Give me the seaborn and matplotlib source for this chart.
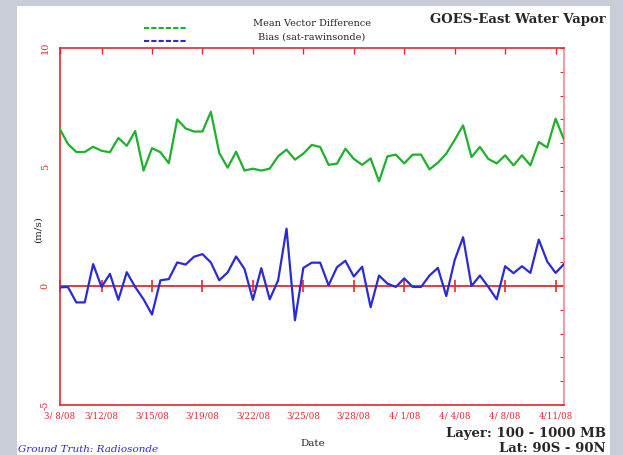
import pandas as pd
import matplotlib.pyplot as plt
import seaborn as sns
from matplotlib.patches import Rectangle
from matplotlib.lines import Line2D

# values, one point per analysis time
mean_vector_diff = [6.62, 5.97, 5.63, 5.63, 5.85, 5.68, 5.62, 6.22, 5.89, 6.51,
                    4.85, 5.79, 5.62, 5.16, 7.00, 6.62, 6.49, 6.49, 7.32, 5.59,
                    4.97, 5.64, 4.85, 4.93, 4.85, 4.93, 5.45, 5.73, 5.31, 5.56,
                    5.93, 5.84, 5.09, 5.14, 5.77, 5.34, 5.09, 5.36, 4.40, 5.45,
                    5.52, 5.15, 5.52, 5.52, 4.90, 5.18, 5.56, 6.14, 6.75, 5.42,
                    5.84, 5.34, 5.15, 5.49, 5.07, 5.49, 5.07, 6.05, 5.82, 7.03,
                    6.15]
bias = [-0.06, -0.04, -0.69, -0.69, 0.92, -0.04, 0.51, -0.58, 0.58, -0.04,
        -0.56, -1.20, 0.24, 0.29, 0.99, 0.90, 1.23, 1.34, 0.99, 0.24,
        0.57, 1.24, 0.72, -0.58, 0.75, -0.56, 0.24, 2.41, -1.44, 0.76,
        0.98, 0.98, 0.03, 0.79, 1.06, 0.40, 0.81, -0.89, 0.44, 0.10,
        -0.04, 0.32, -0.04, -0.04, 0.44, 0.76, -0.42, 1.09, 2.05, 0.00,
        0.44, -0.04, -0.56, 0.83, 0.54, 0.83, 0.55, 1.95, 1.03, 0.55,
        0.92]
tick_index = [0, 5, 11, 17, 23, 29, 35, 41, 47, 53, 59]
tick_labels = ['3/ 8/08', '3/12/08', '3/15/08', '3/19/08', '3/22/08', '3/25/08',
               '3/28/08', '4/ 1/08', '4/ 4/08', '4/ 8/08', '4/11/08']

df = pd.DataFrame({'obs': range(len(bias)),
                   'Mean Vector Difference': mean_vector_diff,
                   'Bias (sat-rawinsonde)': bias})
long = df.melt(id_vars='obs', var_name='series', value_name='speed')

sns.set_style('white')
plt.rcParams['font.family'] = ['DejaVu Serif']

RED = '#e8262e'
GREEN = '#1fb02c'
BLUE = '#2b2bd6'

fig = plt.figure(figsize=(6.23, 4.55), dpi=100, facecolor='#c9cdd7')
fig.add_artist(Rectangle((17 / 623, 0), 593 / 623, 449 / 455,
                         transform=fig.transFigure, facecolor='white',
                         edgecolor='none', zorder=-5))
ax = fig.add_axes([59.5 / 623, 50 / 455, 504.5 / 623, 357 / 455])

ax.axhline(0, color=RED, lw=1.3, zorder=1)
sns.lineplot(data=long, x='obs', y='speed', hue='series',
             palette=[GREEN, BLUE], lw=1.6, legend=False, ax=ax, zorder=3)

ax.set_xlim(0, 60)
ax.set_ylim(-5, 10)
ax.set_yticks([-5, 0, 5, 10])
ax.set_yticklabels(['-5', '0', '5', '10'], rotation=90, va='center')
ax.set_yticks(range(-5, 11), minor=True)
ax.set_xticks(tick_index)
ax.set_xticklabels(tick_labels)
for s in ax.spines.values():
    s.set_color(RED)
    s.set_linewidth(1.2)
ax.spines['right'].set_color('#f08a90')
ax.tick_params(axis='x', direction='in', top=True, length=4, width=1,
               color=RED, labelcolor=RED, labelsize=6.3, pad=5)
ax.tick_params(axis='y', which='both', direction='in', right=True, length=3,
               width=0.8, color=RED, labelcolor=RED, labelsize=7, pad=7)
ax.tick_params(axis='y', which='major', length=3)

# ticks across the zero line
zero_axis = ax.secondary_xaxis(1 / 3)
zero_axis.set_xticks(tick_index)
zero_axis.set_xticklabels([])
zero_axis.spines['bottom'].set_visible(False)
zero_axis.tick_params(direction='inout', length=8, width=1.2, color=RED)

ax.set_xlabel('')
ax.set_ylabel('')
fig.text(38 / 623, 1 - 230 / 455, '(m/s)', rotation=90, ha='center',
         va='center', fontsize=7.5)
fig.text(313 / 623, 1 - 443 / 455, 'Date', ha='center', va='center',
         fontsize=7.5)

# legend and annotations
fig.add_artist(Line2D([144 / 623, 186 / 623], [1 - 28 / 455] * 2, color=GREEN,
                      lw=1.5, ls=(0, (2.5, 1))))
fig.add_artist(Line2D([144 / 623, 186 / 623], [1 - 41 / 455] * 2, color=BLUE,
                      lw=1.5, ls=(0, (2.5, 1))))
fig.text(312 / 623, 1 - 24 / 455, 'Mean Vector Difference', ha='center',
         va='center', fontsize=7)
fig.text(312 / 623, 1 - 37 / 455, 'Bias (sat-rawinsonde)', ha='center',
         va='center', fontsize=7)
fig.text(606 / 623, 1 - 20 / 455, 'GOES-East Water Vapor', ha='right',
         va='center', fontsize=9.5, fontweight='bold')
fig.text(606 / 623, 1 - 434 / 455, 'Layer: 100 - 1000 MB', ha='right',
         va='center', fontsize=9.5, fontweight='bold')
fig.text(606 / 623, 1 - 448 / 455, 'Lat: 90S - 90N', ha='right',
         va='center', fontsize=9.5, fontweight='bold')
fig.text(18 / 623, 1 - 449 / 455, 'Ground Truth: Radiosonde', ha='left',
         va='center', fontsize=7.5, style='italic', color=BLUE)

fig.savefig('out.png', dpi=100, facecolor=fig.get_facecolor())
